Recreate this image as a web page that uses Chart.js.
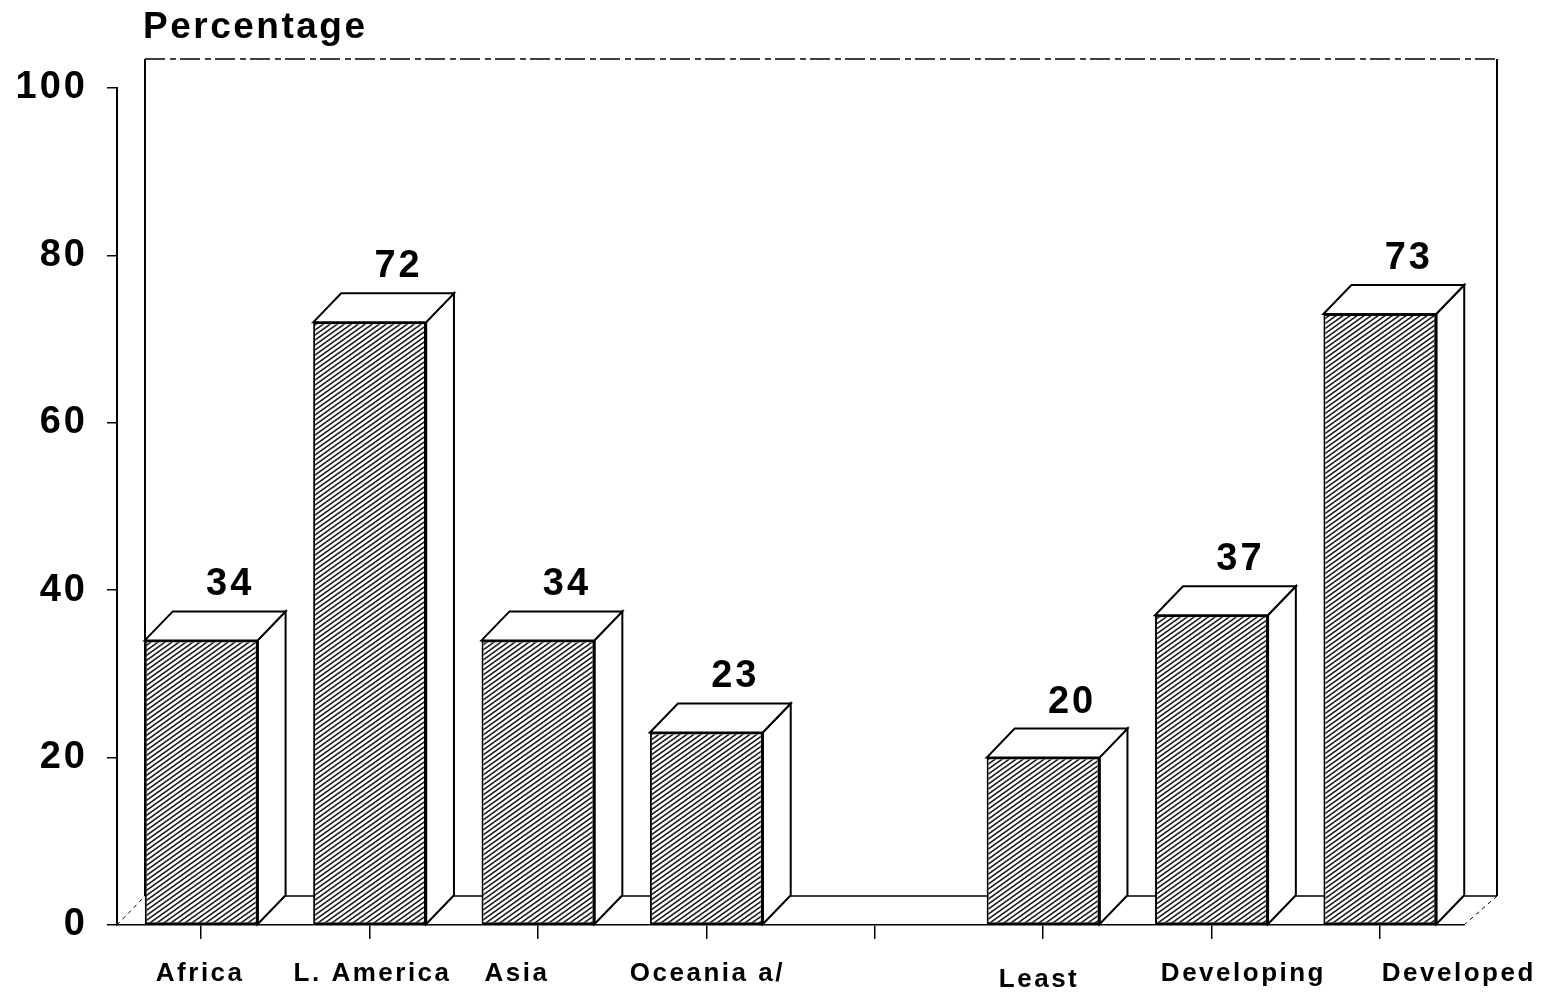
<!DOCTYPE html>
<html>
<head>
<meta charset="utf-8">
<title>Percentage by region</title>
<script src="https://cdn.jsdelivr.net/npm/chart.js@4.4.1/dist/chart.umd.min.js"></script>
<style>
  html, body { margin: 0; padding: 0; background: #fff; }
  canvas { display: block; }
</style>
</head>
<body>
<canvas id="chart" width="1547" height="992"></canvas>
<script>
// Chart data
const categories = ["Africa", "L. America", "Asia", "Oceania a/", "", "Least", "Developing", "Developed"];
const percentages = [34, 72, 34, 23, null, 20, 37, 73];
const yTicks = [0, 20, 40, 60, 80, 100];

// Layout tweaks (not data): how the printed labels sit off their ticks
const labelShift = [[-2, 0], [2, 0], [-22, 0], [0, 0], [0, 0], [-5, 6], [31, 0], [78, 0]];
const depth = { dx: 28, dy: 29 };
const FONT = "'Liberation Sans', Arial, Helvetica, sans-serif";

// Diagonal hatch for the bar fronts
function makeHatch() {
  const c = document.createElement("canvas");
  c.width = 7;
  c.height = 5;
  const g = c.getContext("2d");
  g.fillStyle = "#fff";
  g.fillRect(0, 0, 7, 5);
  g.strokeStyle = "#1b1b1b";
  g.lineWidth = 1.5;
  g.beginPath();
  g.moveTo(-7, 10); g.lineTo(7, 0);
  g.moveTo(0, 5); g.lineTo(7, 0);
  g.moveTo(0, 10); g.lineTo(14, 0);
  g.moveTo(-7, 5); g.lineTo(7, -5);
  g.stroke();
  return g.createPattern(c, "repeat");
}

function line(ctx, x1, y1, x2, y2) {
  ctx.beginPath();
  ctx.moveTo(x1, y1);
  ctx.lineTo(x2, y2);
  ctx.stroke();
}

// Back wall, floor and the 3D sides of each bar
const box3d = {
  id: "box3d",
  beforeDraw(chart) {
    chart.ctx.letterSpacing = "3px";
  },
  beforeDatasetsDraw(chart) {
    const { ctx, chartArea: a } = chart;
    const { dx, dy } = depth;
    const wl = a.left + dx, wr = a.right + dx + 5, wt = a.top - dy, wb = a.bottom - dy;
    ctx.save();
    ctx.strokeStyle = "#000";
    ctx.lineWidth = 1.5;
    ctx.setLineDash([20, 5, 6, 4]);
    line(ctx, wl, wt, wr, wt);
    ctx.setLineDash([]);
    ctx.lineWidth = 2;
    line(ctx, wl, wt, wl, wb);
    line(ctx, wr, wt, wr, wb);
    ctx.lineWidth = 1.5;
    line(ctx, wl, wb, wr, wb);
    ctx.setLineDash([4, 4]);
    ctx.lineWidth = 1;
    line(ctx, a.left, a.bottom, wl, wb);
    line(ctx, a.right, a.bottom, wr, wb);
    ctx.restore();
  },
  afterDatasetsDraw(chart) {
    const { ctx } = chart;
    const { dx, dy } = depth;
    const meta = chart.getDatasetMeta(0);
    ctx.save();
    meta.data.forEach((bar, i) => {
      if (percentages[i] == null) return;
      const { x, y, base, width } = bar.getProps(["x", "y", "base", "width"], true);
      const l = x - width / 2, r = x + width / 2;
      ctx.fillStyle = "#fff";
      ctx.strokeStyle = "#000";
      ctx.lineWidth = 2;
      ctx.lineJoin = "miter";
      // side face
      ctx.beginPath();
      ctx.moveTo(r, y);
      ctx.lineTo(r + dx, y - dy);
      ctx.lineTo(r + dx, base - dy);
      ctx.lineTo(r, base);
      ctx.closePath();
      ctx.fill();
      ctx.stroke();
      // top face
      ctx.beginPath();
      ctx.moveTo(l, y);
      ctx.lineTo(l + dx, y - dy);
      ctx.lineTo(r + dx, y - dy);
      ctx.lineTo(r, y);
      ctx.closePath();
      ctx.fill();
      ctx.stroke();
      ctx.lineWidth = 2.5;
      line(ctx, r, y, r, base);
      // value label
      ctx.fillStyle = "#000";
      ctx.font = `bold 38px ${FONT}`;
      ctx.letterSpacing = "3px";
      ctx.textAlign = "center";
      ctx.textBaseline = "alphabetic";
      ctx.fillText(String(percentages[i]), x + dx + 1, y - dy - 16);
    });
    ctx.restore();
  },
  afterDraw(chart) {
    const { ctx } = chart;
    const xs = chart.scales.x;
    ctx.save();
    ctx.fillStyle = "#000";
    ctx.textBaseline = "alphabetic";
    ctx.font = `bold 37px ${FONT}`;
    ctx.letterSpacing = "2.5px";
    ctx.textAlign = "left";
    ctx.fillText("Percentage", 143, 38);
    ctx.font = `bold 26px ${FONT}`;
    ctx.letterSpacing = "2.5px";
    ctx.textAlign = "center";
    categories.forEach((name, i) => {
      if (!name) return;
      const [sx, sy] = labelShift[i];
      ctx.fillText(name, xs.getPixelForValue(i) + sx + 1, 981 + sy);
    });
    ctx.restore();
  },
};

new Chart(document.getElementById("chart"), {
  type: "bar",
  data: {
    labels: categories,
    datasets: [
      {
        label: "Percentage",
        data: percentages,
        backgroundColor: makeHatch(),
        borderColor: "#000",
        borderWidth: 2,
        borderSkipped: false,
        barPercentage: 0.67,
        categoryPercentage: 1,
      },
    ],
  },
  options: {
    responsive: false,
    animation: false,
    layout: { padding: { top: 88, right: 83, bottom: 0, left: 0 } },
    plugins: {
      legend: { display: false },
      tooltip: { enabled: false },
      title: { display: false },
    },
    scales: {
      x: {
        grid: {
          drawOnChartArea: false,
          drawTicks: true,
          tickLength: 14,
          offset: false,
          color: "#000",
          lineWidth: 1.5,
        },
        border: { display: true, color: "#000", width: 1.5, dash: [14, 5] },
        ticks: { display: false },
        afterFit: (s) => { s.height = 67; },
      },
      y: {
        min: 0,
        max: 100,
        afterBuildTicks: (s) => { s.ticks = yTicks.map((v) => ({ value: v })); },
        ticks: {
          color: "#000",
          padding: 19,
          font: { family: FONT, size: 38, weight: "bold" },
        },
        grid: {
          drawOnChartArea: false,
          tickLength: 10,
          color: "#000",
          lineWidth: 1.5,
        },
        border: { color: "#000", width: 2 },
        afterFit: (s) => { s.width = 117; },
      },
    },
  },
  plugins: [box3d],
});
</script>
</body>
</html>
